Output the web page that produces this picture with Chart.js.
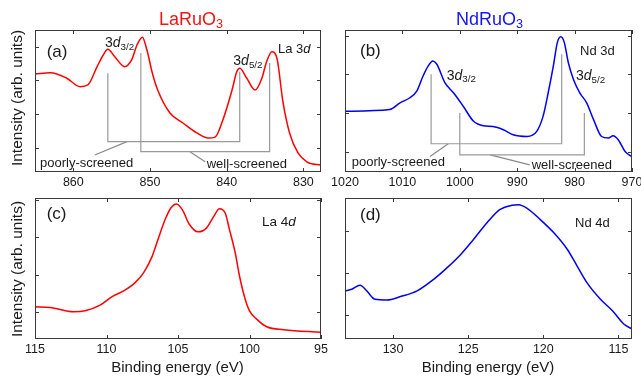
<!DOCTYPE html>
<html lang="en">
<head>
<meta charset="UTF-8">
<title>LaRuO3 / NdRuO3 core levels</title>
<script src="https://cdn.jsdelivr.net/npm/chart.js"></script>
<style>
  body { margin: 0; background: #fff; overflow: hidden; }
  #fig { position: relative; width: 641px; height: 377px; font-family: "Liberation Sans", Arial, sans-serif; color: #1a1a1a; }
  #fig canvas { position: absolute; }
  .t { position: absolute; white-space: nowrap; line-height: 1; }
  .t sub { font-size: 70%; vertical-align: baseline; position: relative; top: 0.3em; }
  .ytitle { position: absolute; white-space: nowrap; line-height: 1; font-size: 15.5px; transform: translate(-50%, -50%) rotate(-90deg); }
  .xtitle { position: absolute; white-space: nowrap; line-height: 1; font-size: 15px; transform: translateX(-50%); }
</style>
</head>
<body>
<div id="fig">
  <canvas id="cA" width="326" height="182" style="left:15px;top:20px"></canvas>
  <canvas id="cB" width="327" height="182" style="left:325px;top:20px"></canvas>
  <canvas id="cC" width="326" height="181" style="left:15px;top:188px"></canvas>
  <canvas id="cD" width="327" height="181" style="left:325px;top:188px"></canvas>

  <div class="t" style="left:159px;top:9.5px;font-size:18px;color:#f01515">LaRuO<sub>3</sub></div>
  <div class="t" style="left:456px;top:9.5px;font-size:18px;color:#1515f0">NdRuO<sub>3</sub></div>

  <div class="ytitle" style="left:16.5px;top:97.5px">Intensity (arb. units)</div>
  <div class="ytitle" style="left:16.5px;top:269px">Intensity (arb. units)</div>
  <div class="xtitle" style="left:177.5px;top:359px">Binding energy (eV)</div>
  <div class="xtitle" style="left:488px;top:359px">Binding energy (eV)</div>

  <div class="t" style="left:46.7px;top:43px;font-size:17px">(a)</div>
  <div class="t" style="left:360px;top:41.7px;font-size:17px">(b)</div>
  <div class="t" style="left:46.7px;top:205px;font-size:17px">(c)</div>
  <div class="t" style="left:360px;top:205.8px;font-size:17px">(d)</div>

  <div class="t" style="left:278px;top:41.6px;font-size:13px">La 3<i>d</i></div>
  <div class="t" style="left:580px;top:43.6px;font-size:13px">Nd 3d</div>
  <div class="t" style="left:262px;top:215px;font-size:13.5px">La 4<i>d</i></div>
  <div class="t" style="left:575px;top:215.6px;font-size:13px">Nd 4d</div>

  <div class="t" style="left:105px;top:35px;font-size:14px">3<i>d</i><sub>3/2</sub></div>
  <div class="t" style="left:233.3px;top:53px;font-size:14px">3<i>d</i><sub>5/2</sub></div>
  <div class="t" style="left:446.7px;top:67.5px;font-size:14px">3<i>d</i><sub>3/2</sub></div>
  <div class="t" style="left:576px;top:68px;font-size:14px">3<i>d</i><sub>5/2</sub></div>

  <div class="t" style="left:40px;top:155.7px;font-size:13px">poorly-screened</div>
  <div class="t" style="left:206.7px;top:157.3px;font-size:13px">well-screened</div>
  <div class="t" style="left:351.7px;top:155px;font-size:13px">poorly-screened</div>
  <div class="t" style="left:531.7px;top:158.3px;font-size:13px">well-screened</div>
</div>

<script>
// ---- data (intensity in arb. units, 0-100 frame) ----
const energyA = [865.0, 863.0, 860.9, 859.1, 858.1, 856.9, 856.1, 855.5, 854.6, 853.3, 852.4, 851.7, 851.0, 850.4, 849.7, 849.0, 847.4, 845.7, 843.9, 842.4, 841.5, 840.5, 839.3, 838.7, 838.3, 837.4, 836.3, 835.4, 834.8, 834.1, 833.4, 832.7, 831.8, 830.7, 829.5, 827.7];
const intensityA = [69.0, 69.9, 66.2, 60.1, 61.3, 74.2, 82.4, 86.4, 81.2, 74.2, 78.9, 89.4, 94.9, 85.9, 69.7, 57.7, 41.5, 34.5, 27.5, 23.9, 24.6, 36.6, 57.7, 70.4, 73.0, 66.2, 57.7, 66.2, 77.7, 84.7, 78.9, 50.7, 27.5, 13.4, 7.0, 4.9];

const energyB = [1020.0, 1012.2, 1010.4, 1008.7, 1007.5, 1006.4, 1005.5, 1004.7, 1004.0, 1002.6, 1001.1, 999.4, 997.6, 995.9, 994.2, 992.4, 990.7, 988.3, 986.6, 985.5, 984.6, 983.7, 983.0, 982.4, 981.8, 981.1, 980.2, 979.1, 977.9, 976.7, 975.3, 974.1, 973.3, 972.4, 971.2, 970.1];
const intensityB = [42.8, 44.0, 48.7, 52.3, 57.0, 67.6, 74.7, 78.2, 75.9, 62.9, 55.8, 46.3, 35.7, 32.6, 32.1, 29.8, 26.2, 25.0, 28.6, 39.2, 55.8, 74.7, 91.3, 95.2, 91.3, 77.1, 65.2, 55.8, 48.7, 36.9, 25.0, 23.9, 25.5, 22.7, 14.4, 10.9];

const energyC = [115.0, 113.95, 112.3, 111.5, 110.45, 109.6, 108.8, 108.0, 107.4, 106.8, 106.4, 105.9, 105.5, 105.1, 104.7, 104.2, 103.6, 103.0, 102.5, 102.1, 101.7, 101.4, 101.0, 100.7, 100.3, 100.0, 99.5, 98.8, 97.6, 95.0];
const intensityC = [22.8, 22.4, 19.3, 20.0, 24.0, 30.1, 34.1, 40.0, 47.1, 58.8, 70.6, 84.7, 92.9, 95.8, 91.7, 81.2, 76.0, 78.8, 87.0, 92.4, 89.4, 77.6, 61.2, 44.7, 28.2, 20.0, 14.1, 8.7, 6.6, 4.7];

const energyD = [133.2, 132.75, 132.2, 131.75, 131.2, 130.4, 129.5, 128.4, 127.3, 126.4, 125.5, 124.65, 123.75, 122.9, 122.1, 121.65, 121.1, 120.2, 119.3, 118.4, 117.75, 117.1, 116.2, 115.4, 114.65, 114.1];
const intensityD = [34.1, 35.3, 38.1, 34.1, 28.2, 27.7, 30.1, 34.1, 42.3, 50.6, 60.0, 70.6, 82.4, 91.7, 94.8, 95.3, 92.9, 84.7, 75.3, 63.5, 51.7, 40.0, 28.2, 20.0, 10.6, 7.1];

// axis ranges and ticks
const xRangeA = [827.7, 865], xTicksA = [860, 850, 840, 830], yTicksA = [16.9, 40.8, 64.8, 88.0];
const xRangeB = [970, 1020], xTicksB = [1020, 1010, 1000, 990, 980, 970], yTicksB = [14.3, 41.8, 68.8, 95.8];
const xRangeC = [95, 115], xTicksC = [115, 110, 105, 100, 95], yTicksC = [18.8, 45.4, 72.2, 98.8];
const xRangeD = [114.1, 133.2], xTicksD = [130, 125, 120, 115], yTicksD = [16.9, 47.1, 76.9];

// screening brackets [energy, intensity]
const poorlyA = [[855.5, 69.5], [855.5, 21.4], [838.3, 21.4], [838.3, 70.6]];
const wellA = [[851.2, 83.8], [851.2, 14.3], [834.4, 14.3], [834.4, 76.8]];
const poorlyPtrA = [[853.0, 21.4], [857.2, 12.0]];
const wellPtrA = [[844.8, 14.3], [842.8, 7.3]];

const poorlyB = [[1005.0, 68.8], [1005.0, 19.9], [982.25, 19.9], [982.25, 83.0]];
const wellB = [[1000.0, 41.6], [1000.0, 12.1], [978.3, 12.1], [978.3, 41.6]];
const poorlyPtrB = [[1002.0, 19.9], [1005.2, 10.9]];
const wellPtrB = [[994.7, 12.1], [987.8, 5.0]];

const toPts = (xs, ys) => xs.map((x, i) => ({ x: x, y: ys[i] }));
const pairPts = arr => arr.map(p => ({ x: p[0], y: p[1] }));

// frame with inward ticks on all four sides
const frameTicks = {
  id: 'frameTicks',
  afterDraw(chart) {
    const { ctx, chartArea: a, scales: { x, y } } = chart;
    ctx.save();
    ctx.strokeStyle = '#3a3a3a';
    ctx.lineWidth = 1;
    ctx.strokeRect(a.left + 0.5, a.top + 0.5, a.right - a.left - 1, a.bottom - a.top - 1);
    ctx.beginPath();
    x.ticks.forEach(t => {
      const px = Math.round(x.getPixelForValue(t.value)) + 0.5;
      ctx.moveTo(px, a.bottom); ctx.lineTo(px, a.bottom - 4);
      ctx.moveTo(px, a.top); ctx.lineTo(px, a.top + 4);
    });
    y.ticks.forEach(t => {
      const py = Math.round(y.getPixelForValue(t.value)) + 0.5;
      ctx.moveTo(a.left, py); ctx.lineTo(a.left + 4, py);
      ctx.moveTo(a.right, py); ctx.lineTo(a.right - 4, py);
    });
    ctx.stroke();
    ctx.restore();
  }
};

function bracket(points, color) {
  return { data: pairPts(points), borderColor: color, borderWidth: 1.2, pointRadius: 0, tension: 0, fill: false };
}

function makePanel(id, energy, intensity, color, xRange, xTicks, yTicks, extras) {
  const datasets = [{
    data: toPts(energy, intensity),
    borderColor: color,
    borderWidth: 1.5,
    pointRadius: 0,
    fill: false,
    cubicInterpolationMode: 'monotone'
  }].concat(extras);

  return new Chart(document.getElementById(id), {
    type: 'line',
    data: { datasets: datasets },
    options: {
      responsive: false,
      animation: false,
      devicePixelRatio: 1,
      layout: { padding: { left: 20, right: 20, top: 10, bottom: 0 } },
      plugins: { legend: { display: false }, tooltip: { enabled: false } },
      scales: {
        x: {
          type: 'linear',
          reverse: true,
          min: xRange[0],
          max: xRange[1],
          afterBuildTicks: s => { s.ticks = xTicks.map(v => ({ value: v })); },
          afterFit: s => { s.height = 30; },
          grid: { display: false, drawTicks: false },
          border: { display: false },
          ticks: {
            padding: 3,
            color: '#1a1a1a',
            font: { family: '"Liberation Sans", Arial, sans-serif', size: 12.5 },
            callback: v => String(v),
            maxRotation: 0,
            autoSkip: false
          }
        },
        y: {
          display: false,
          min: 0,
          max: 100,
          afterBuildTicks: s => { s.ticks = yTicks.map(v => ({ value: v })); }
        }
      }
    },
    plugins: [frameTicks]
  });
}

const gray = '#9a9a9a';
const grayPtr = '#8a8a8a';

makePanel('cA', energyA, intensityA, '#ff0000', xRangeA, xTicksA, yTicksA, [
  bracket(poorlyA, gray), bracket(wellA, gray), bracket(poorlyPtrA, grayPtr), bracket(wellPtrA, grayPtr)
]);
makePanel('cB', energyB, intensityB, '#0000ee', xRangeB, xTicksB, yTicksB, [
  bracket(poorlyB, gray), bracket(wellB, gray), bracket(poorlyPtrB, grayPtr), bracket(wellPtrB, grayPtr)
]);
makePanel('cC', energyC, intensityC, '#ff0000', xRangeC, xTicksC, yTicksC, []);
makePanel('cD', energyD, intensityD, '#0000ee', xRangeD, xTicksD, yTicksD, []);
</script>
</body>
</html>
